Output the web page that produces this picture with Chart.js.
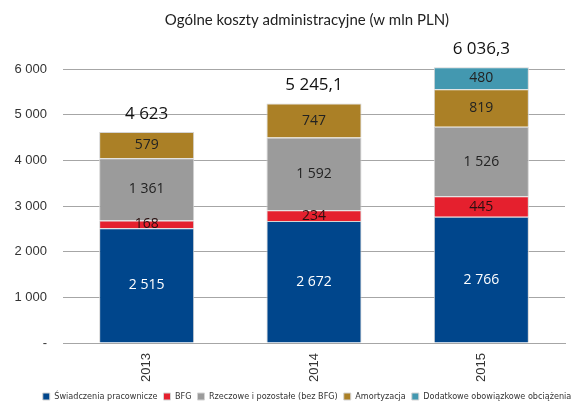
<!DOCTYPE html>
<html>
<head>
<meta charset="utf-8">
<script src="https://cdn.jsdelivr.net/npm/chart.js@4"></script>
<style>
  html, body { margin: 0; padding: 0; overflow: hidden; background: #fff; }
  #wrap { width: 572px; height: 411px; overflow: hidden; }
</style>
</head>
<body>
<div id="wrap"><canvas id="chart" width="614" height="411"></canvas></div>
<script>
const years = ['2013', '2014', '2015'];

const swiadczenia = [2515, 2672, 2766];
const bfg = [168, 234, 445];
const rzeczowe = [1361, 1592, 1526];
const amortyzacja = [579, 747, 819];
const dodatkowe = [null, null, 480];

const totalLabels = ['4 623', '5 245,1', '6 036,3'];
const yTickLabels = ['-', '1 000', '2 000', '3 000', '4 000', '5 000', '6 000'];

const seriesNames = [
  'Świadczenia pracownicze',
  'BFG',
  'Rzeczowe i pozostałe (bez BFG)',
  'Amortyzacja',
  'Dodatkowe obowiązkowe obciążenia'
];
const seriesData = [swiadczenia, bfg, rzeczowe, amortyzacja, dodatkowe];
const seriesColors = ['#00468c', '#e5202e', '#9b9b9b', '#ab8026', '#4398b0'];
const labelColors = ['#ffffff', '#2a1010', '#222222', '#222222', '#222222'];

function fmt(v) {
  return String(v).replace(/\B(?=(\d{3})+(?!\d))/g, ' ');
}

const datasets = seriesNames.map((name, i) => ({
  label: name,
  data: seriesData[i],
  backgroundColor: seriesColors[i],
  borderColor: '#d4d4d4',
  borderWidth: 1,
  clip: false
}));

// numbers inside the segments and totals above each bar
const barLabels = {
  id: 'barLabels',
  afterDatasetsDraw(chart) {
    const ctx = chart.ctx;
    ctx.save();
    ctx.textAlign = 'center';
    ctx.textBaseline = 'middle';
    ctx.font = '14px "Open Sans", sans-serif';
    chart.data.datasets.forEach((ds, i) => {
      const meta = chart.getDatasetMeta(i);
      meta.data.forEach((bar, j) => {
        const v = ds.data[j];
        if (v == null) return;
        const p = bar.getProps(['x', 'y', 'base'], true);
        ctx.fillStyle = labelColors[i];
        ctx.fillText(fmt(v), p.x, (p.y + p.base) / 2);
      });
    });
    const xs = chart.scales.x;
    const ys = chart.scales.y;
    ctx.font = '17px "Open Sans", sans-serif';
    ctx.fillStyle = '#111';
    years.forEach((yr, j) => {
      let sum = 0;
      seriesData.forEach(arr => { sum += arr[j] || 0; });
      ctx.fillText(totalLabels[j], xs.getPixelForValue(j), ys.getPixelForValue(sum) - 18);
    });
    ctx.restore();
  }
};

new Chart(document.getElementById('chart'), {
  type: 'bar',
  data: { labels: years, datasets: datasets },
  plugins: [barLabels],
  options: {
    responsive: false,
    animation: false,
    devicePixelRatio: 1,
    layout: { padding: 0 },
    datasets: { bar: { categoryPercentage: 1, barPercentage: 0.568 } },
    plugins: {
      title: {
        display: true,
        text: 'Ogólne koszty administracyjne (w mln PLN)',
        color: '#222',
        font: { family: 'Lato, sans-serif', size: 15, weight: 'normal' },
        padding: { top: 11, bottom: 40 }
      },
      legend: {
        position: 'bottom',
        labels: {
          boxWidth: 7,
          boxHeight: 7,
          padding: 6,
          color: '#333',
          font: { family: '"DejaVu Sans Condensed", "Liberation Sans", sans-serif', size: 9 }
        }
      },
      tooltip: { enabled: false }
    },
    scales: {
      x: {
        stacked: true,
        grid: { display: false, drawTicks: false },
        border: { display: true, color: '#a6a6a6', width: 1 },
        ticks: {
          minRotation: 90,
          maxRotation: 90,
          padding: 10,
          color: '#333',
          font: { family: '"Liberation Sans", sans-serif', size: 13 }
        },
        afterFit(s) { s.height = 43; }
      },
      y: {
        stacked: true,
        min: 0,
        max: 6000,
        border: { display: false },
        grid: { color: '#a6a6a6', lineWidth: 1, drawTicks: false },
        ticks: {
          stepSize: 1000,
          padding: 16,
          color: '#333',
          font: { family: '"Liberation Sans", sans-serif', size: 13 },
          callback: (v) => yTickLabels[Math.round(v / 1000)]
        },
        afterFit(s) { s.width = 63; }
      },
      yRight: {
        position: 'right',
        display: true,
        grid: { display: false },
        border: { display: false },
        ticks: { display: false },
        afterFit(s) { s.width = 49; }
      }
    }
  }
});
</script>
</body>
</html>
